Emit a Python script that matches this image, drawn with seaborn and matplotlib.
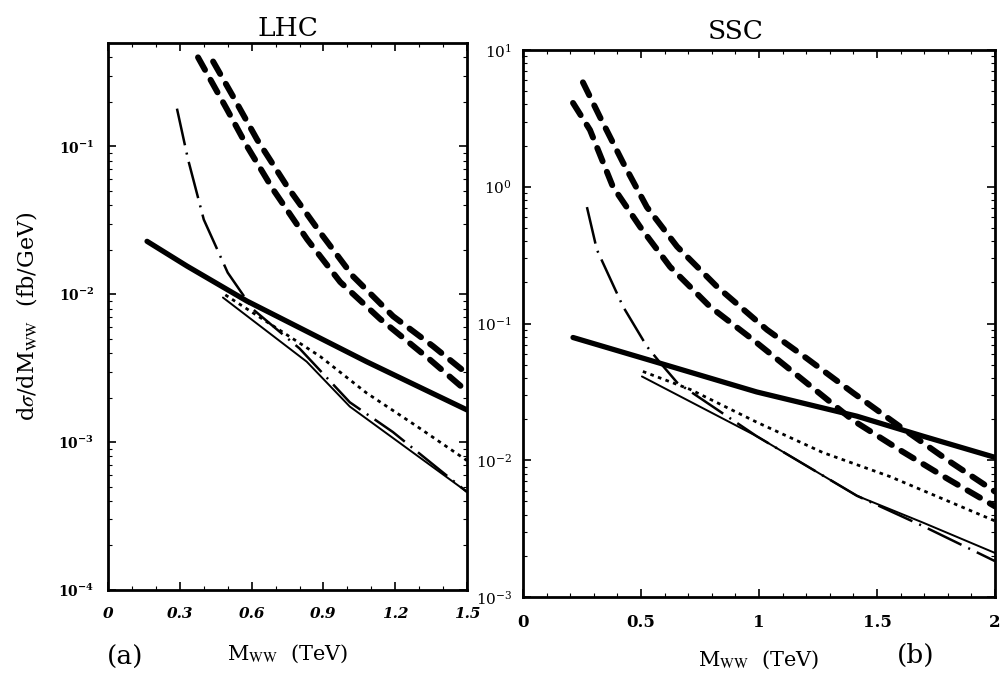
import matplotlib
matplotlib.use("Agg")
import matplotlib.pyplot as plt
import matplotlib.ticker as mticker
import seaborn as sns
import pandas as pd

# ---- LHC (panel a) ----
lhc_dash_outer_x = [0.439, 0.522, 0.623, 0.748, 0.886, 1.024, 1.191, 1.358, 1.5]
lhc_dash_outer_y = [0.375, 0.218, 0.111, 0.0537, 0.0262, 0.0132, 0.0071, 0.00445, 0.0029]
lhc_dash_inner_x = [0.376, 0.497, 0.581, 0.69, 0.832, 0.97, 1.137, 1.346, 1.5]
lhc_dash_inner_y = [0.40, 0.178, 0.1, 0.051, 0.0235, 0.0121, 0.0068, 0.0036, 0.0022]
lhc_thick_x = [0.163, 0.33, 0.58, 1.08, 1.5]
lhc_thick_y = [0.0228, 0.0155, 0.009, 0.0035, 0.00165]
lhc_dashdot_x = [0.288, 0.334, 0.40, 0.50, 0.606, 0.80, 1.01, 1.19, 1.5]
lhc_dashdot_y = [0.18, 0.082, 0.032, 0.014, 0.0079, 0.0043, 0.00186, 0.00117, 0.00046]
lhc_thin_x = [0.48, 0.83, 1.01, 1.5]
lhc_thin_y = [0.0095, 0.0035, 0.00174, 0.00046]
lhc_dot_x = [0.49, 0.886, 1.08, 1.29, 1.5]
lhc_dot_y = [0.0099, 0.0038, 0.00215, 0.00128, 0.00075]

# ---- SSC (panel b) ----
ssc_dash_outer_x = [0.254, 0.326, 0.424, 0.525, 0.653, 0.822, 1.034, 1.2, 1.4, 1.6, 1.8, 2.0]
ssc_dash_outer_y = [5.8, 3.24, 1.5, 0.71, 0.365, 0.186, 0.090, 0.056, 0.031, 0.0175, 0.0100, 0.0059]
ssc_dash_inner_x = [0.212, 0.284, 0.381, 0.496, 0.623, 0.792, 0.975, 1.2, 1.4, 1.6, 1.8, 2.0]
ssc_dash_inner_y = [4.1, 2.6, 1.0, 0.51, 0.26, 0.133, 0.076, 0.037, 0.0195, 0.0118, 0.0073, 0.0046]
ssc_thick_x = [0.212, 0.568, 0.99, 1.415, 1.695, 2.0]
ssc_thick_y = [0.079, 0.052, 0.0316, 0.021, 0.015, 0.0105]
ssc_dashdot_x = [0.271, 0.313, 0.424, 0.525, 0.58, 0.653, 0.99, 1.415, 1.695, 2.0]
ssc_dashdot_y = [0.71, 0.347, 0.133, 0.068, 0.052, 0.037, 0.015, 0.0055, 0.0033, 0.00183]
ssc_thin_x = [0.504, 0.99, 1.415, 1.695, 2.0]
ssc_thin_y = [0.041, 0.015, 0.0055, 0.0035, 0.0021]
ssc_dot_x = [0.508, 0.708, 0.99, 1.27, 1.555, 2.0]
ssc_dot_y = [0.0446, 0.033, 0.019, 0.0114, 0.0076, 0.0036]

lhc_xticks = [0, 0.3, 0.6, 0.9, 1.2, 1.5]
lhc_xticklabels = ["0", "0.3", "0.6", "0.9", "1.2", "1.5"]
ssc_xticks = [0, 0.5, 1, 1.5, 2]
ssc_xticklabels = ["0", "0.5", "1", "1.5", "2"]

sns.set_style("ticks")
plt.rcParams["font.family"] = ["DejaVu Serif"]
plt.rcParams["mathtext.fontset"] = "stix"
for key in ["axes.edgecolor", "text.color", "axes.labelcolor", "xtick.color", "ytick.color"]:
    plt.rcParams[key] = "black"

STYLES = {
    "dash": dict(linewidth=4.3, linestyle=(0, (2.4, 1.9)), dash_capstyle="round"),
    "thick": dict(linewidth=3.8, linestyle="-", solid_capstyle="round"),
    "dashdot": dict(linewidth=1.8, linestyle=(0, (15, 3, 0.8, 3))),
    "thin": dict(linewidth=1.4, linestyle="-"),
    "dot": dict(linewidth=2.0, linestyle=(0, (1.3, 1.6))),
}


def draw(ax, x, y, kind):
    df = pd.DataFrame({"x": x, "y": y})
    sns.lineplot(data=df, x="x", y="y", ax=ax, color="black",
                 estimator=None, sort=False, **STYLES[kind])


fig = plt.figure(figsize=(10.04, 6.83), dpi=100)
ax1 = fig.add_axes([0.1076, 0.1362, 0.3576, 0.8008])
ax2 = fig.add_axes([0.5209, 0.1259, 0.4701, 0.8009])

for ax, sets in [
    (ax1, [(lhc_dash_outer_x, lhc_dash_outer_y, "dash"),
           (lhc_dash_inner_x, lhc_dash_inner_y, "dash"),
           (lhc_thick_x, lhc_thick_y, "thick"),
           (lhc_dashdot_x, lhc_dashdot_y, "dashdot"),
           (lhc_thin_x, lhc_thin_y, "thin"),
           (lhc_dot_x, lhc_dot_y, "dot")]),
    (ax2, [(ssc_dash_outer_x, ssc_dash_outer_y, "dash"),
           (ssc_dash_inner_x, ssc_dash_inner_y, "dash"),
           (ssc_thick_x, ssc_thick_y, "thick"),
           (ssc_dashdot_x, ssc_dashdot_y, "dashdot"),
           (ssc_thin_x, ssc_thin_y, "thin"),
           (ssc_dot_x, ssc_dot_y, "dot")]),
]:
    for x, y, kind in sets:
        draw(ax, x, y, kind)
    ax.set_yscale("log")
    for side in ["top", "right", "left", "bottom"]:
        ax.spines[side].set_visible(True)
        ax.spines[side].set_linewidth(2.0)
        ax.spines[side].set_color("black")
    ax.tick_params(which="both", direction="in", top=True, right=True)
    ax.tick_params(which="major", length=6, width=1.2)
    ax.tick_params(which="minor", length=3, width=0.8)
    ax.set_ylabel("")
    ax.set_xlabel("")

# panel a
ax1.set_xlim(0, 1.5)
ax1.set_ylim(1e-4, 0.5)
ax1.set_xticks(lhc_xticks)
ax1.set_xticklabels(lhc_xticklabels, fontsize=11, fontweight="bold", style="italic")
ax1.xaxis.set_minor_locator(mticker.MultipleLocator(0.1))
ax1.yaxis.set_major_locator(mticker.LogLocator(base=10, numticks=10))
ax1.yaxis.set_major_formatter(mticker.LogFormatterMathtext())
for lab in ax1.get_yticklabels():
    lab.set_fontsize(10)
    lab.set_fontweight("bold")
ax1.tick_params(axis="x", pad=12)
ax1.tick_params(axis="y", pad=10)
ax1.set_title("LHC", fontsize=19, pad=5)
ax1.set_xlabel(r"M$_{\rm WW}$  (TeV)", fontsize=15, labelpad=16)
ax1.set_ylabel(r"d$\sigma$/dM$_{\rm WW}$  (fb/GeV)", fontsize=16, labelpad=14)

# panel b
ax2.set_xlim(0, 2)
ax2.set_ylim(1e-3, 10)
ax2.set_xticks(ssc_xticks)
ax2.set_xticklabels(ssc_xticklabels, fontsize=12, fontweight="bold")
ax2.xaxis.set_minor_locator(mticker.MultipleLocator(0.1))
ax2.yaxis.set_major_formatter(mticker.LogFormatterMathtext())
for lab in ax2.get_yticklabels():
    lab.set_fontsize(11)
ax2.tick_params(axis="x", pad=12)
ax2.tick_params(axis="y", pad=8)
ax2.set_title("SSC", fontsize=19, pad=8, x=0.451)
ax2.set_xlabel(r"M$_{\rm WW}$  (TeV)", fontsize=15, labelpad=13)

fig.text(0.125, 0.038, "(a)", fontsize=19, ha="center", va="center")
fig.text(0.912, 0.041, "(b)", fontsize=19, ha="center", va="center")

fig.savefig("out.png", dpi=100)
